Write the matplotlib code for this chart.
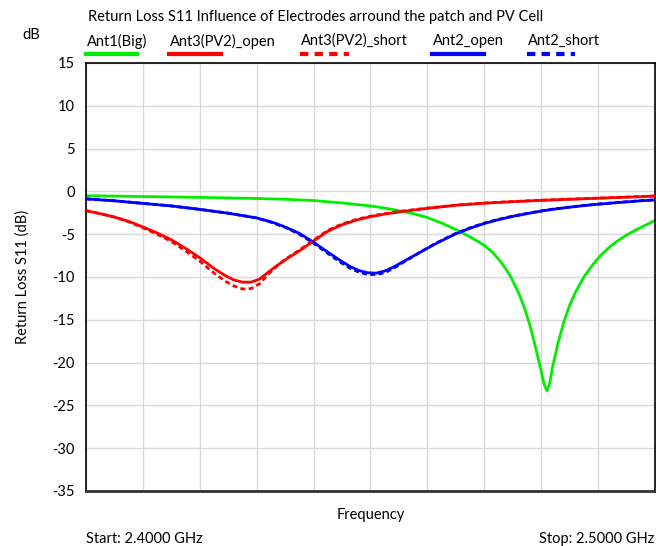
import matplotlib
matplotlib.use("Agg")
import matplotlib.pyplot as plt
from matplotlib.lines import Line2D

plt.rcParams['font.family'] = ['Lato', 'DejaVu Sans']
plt.rcParams['axes.unicode_minus'] = False

# frequency in GHz, return loss in dB
ant1_f = [2.400, 2.405, 2.410, 2.415, 2.420, 2.425, 2.430, 2.435, 2.440, 2.445,
          2.450, 2.4525, 2.455, 2.4575, 2.460, 2.4625, 2.465, 2.4675, 2.470, 2.4715,
          2.473, 2.4745, 2.476, 2.477, 2.478, 2.479, 2.480, 2.4805, 2.481, 2.4815,
          2.482, 2.483, 2.484, 2.485, 2.486, 2.4875, 2.489, 2.4905, 2.492, 2.4935,
          2.495, 2.4965, 2.498, 2.500]
ant1_big = [-0.5, -0.55, -0.6, -0.65, -0.7, -0.76, -0.83, -0.92, -1.07, -1.35,
            -1.7, -1.95, -2.25, -2.6, -3.05, -3.7, -4.45, -5.3, -6.3, -7.15,
            -8.3, -9.8, -11.8, -13.5, -15.6, -18.2, -21.0, -22.5, -23.3, -22.4,
            -20.5, -17.6, -15.2, -13.3, -11.8, -10.0, -8.6, -7.45, -6.5, -5.75,
            -5.1, -4.55, -4.05, -3.4]

ant3_f = [2.400, 2.4025, 2.405, 2.4075, 2.410, 2.4125, 2.415, 2.4175, 2.420, 2.4225,
          2.4245, 2.426, 2.4275, 2.429, 2.4305, 2.432, 2.4335, 2.435, 2.4375, 2.440,
          2.4425, 2.445, 2.4475, 2.450, 2.4525, 2.455, 2.4575, 2.460, 2.465, 2.470,
          2.475, 2.480, 2.485, 2.490, 2.495, 2.500]
ant3_open = [-2.25, -2.6, -3.0, -3.5, -4.15, -4.85, -5.65, -6.65, -7.75, -9.0,
             -9.85, -10.35, -10.6, -10.6, -10.25, -9.45, -8.7, -8.0, -6.95, -5.8,
             -4.65, -3.9, -3.35, -2.95, -2.65, -2.4, -2.18, -1.98, -1.62, -1.38,
             -1.2, -1.05, -0.92, -0.8, -0.68, -0.55]
ant3_short = [-2.25, -2.6, -3.0, -3.55, -4.25, -5.0, -5.85, -6.95, -8.15, -9.55,
              -10.5, -11.05, -11.4, -11.35, -10.8, -9.7, -8.75, -7.95, -6.85, -5.7,
              -4.55, -3.8, -3.28, -2.9, -2.6, -2.35, -2.14, -1.95, -1.6, -1.36,
              -1.18, -1.03, -0.9, -0.78, -0.66, -0.53]

ant2_f = [2.400, 2.405, 2.410, 2.415, 2.420, 2.425, 2.430, 2.4325, 2.435, 2.4375,
          2.440, 2.4425, 2.445, 2.4465, 2.448, 2.4495, 2.451, 2.4525, 2.454, 2.4555,
          2.457, 2.4585, 2.460, 2.4615, 2.463, 2.465, 2.4675, 2.470, 2.4725, 2.475,
          2.4775, 2.480, 2.4825, 2.485, 2.4875, 2.490, 2.4925, 2.495, 2.4975, 2.500]
ant2_open = [-0.87, -1.1, -1.4, -1.7, -2.1, -2.55, -3.1, -3.55, -4.15, -4.9,
             -5.95, -7.1, -8.2, -8.8, -9.25, -9.5, -9.55, -9.3, -8.85, -8.3,
             -7.75, -7.2, -6.65, -6.1, -5.6, -4.95, -4.3, -3.75, -3.3, -2.92,
             -2.6, -2.3, -2.05, -1.85, -1.66, -1.5, -1.36, -1.23, -1.1, -1.0]
ant2_short = [-0.87, -1.1, -1.4, -1.7, -2.1, -2.55, -3.1, -3.6, -4.2, -5.0,
              -6.05, -7.25, -8.4, -9.0, -9.45, -9.7, -9.72, -9.5, -9.0, -8.4,
              -7.8, -7.2, -6.6, -6.05, -5.55, -4.9, -4.25, -3.7, -3.26, -2.89,
              -2.57, -2.28, -2.03, -1.83, -1.64, -1.48, -1.34, -1.21, -1.08, -0.98]

labels = ['Ant1(Big)', 'Ant3(PV2)_open', 'Ant3(PV2)_short', 'Ant2_open', 'Ant2_short']

fig = plt.figure(figsize=(6.56, 5.46), dpi=100)
ax = fig.add_axes([86/656, 55/546, 569/656, 428/546])

lw = 2.0
dash = (0, (1.8, 1.2))
l1, = ax.plot(ant1_f, ant1_big, color='#00ee00', lw=lw)
l2, = ax.plot(ant3_f, ant3_open, color='#ff0000', lw=lw)
l3, = ax.plot(ant3_f, ant3_short, color='#ff0000', lw=lw, ls=dash, zorder=3)
l4, = ax.plot(ant2_f, ant2_open, color='#0000ff', lw=lw)
l5, = ax.plot(ant2_f, ant2_short, color='#0000ff', lw=lw, ls=dash, zorder=3)
lines = [l1, l2, l3, l4, l5]

ax.set_xlim(2.40, 2.50)
ax.set_ylim(-35, 15)
ax.set_xticks([2.40 + 0.01 * i for i in range(11)])
ax.set_yticks(range(-35, 16, 5))
ax.set_xticklabels([])
ax.tick_params(length=0, labelsize=10.5, pad=8)
ax.grid(True, color='#d9d9d9', lw=1)
ax.set_axisbelow(True)
for s in ax.spines.values():
    s.set_color('black')
    s.set_linewidth(1.2)
ax.spines['bottom'].set_color('#333333')
ax.spines['bottom'].set_linewidth(2)

ax.set_xlabel('Frequency', fontsize=10.5, labelpad=4)
ax.set_ylabel('Return Loss S11 (dB)', fontsize=10.5, labelpad=16)

fig.text(88/656, 1 - 17/546, 'Return Loss S11 Influence of Electrodes arround the patch and PV Cell',
         fontsize=10.5, va='center', ha='left')
fig.text(22/656, 1 - 35/546, 'dB', fontsize=10.5, va='center', ha='left')
fig.text(86/656, 1 - 539/546, 'Start: 2.4000 GHz', fontsize=10.5, va='center', ha='left')
fig.text(654/656, 1 - 539/546, 'Stop: 2.5000 GHz', fontsize=10.5, va='center', ha='right')

# legend: label text above a short line sample
leg_x = [86, 169, 300, 432, 527]
leg_w = [51, 52, 49, 52, 48]
for ln, lab, x0, w in zip(lines, labels, leg_x, leg_w):
    fig.text((x0 + 1)/656, 1 - 41/546, lab, fontsize=10.5, va='center', ha='left')
    ls = (0, (2, 1.5)) if ln.get_linestyle() != '-' else '-'
    fig.add_artist(Line2D([x0/656, (x0 + w)/656], [1 - 54/546, 1 - 54/546],
                          transform=fig.transFigure, color=ln.get_color(),
                          lw=3, ls=ls))

fig.savefig('out.png', dpi=100)
